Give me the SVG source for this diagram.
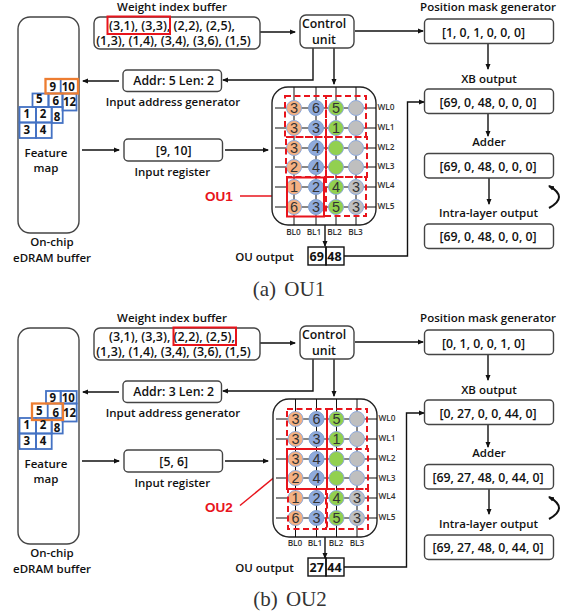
<svg xmlns="http://www.w3.org/2000/svg" width="573" height="615" viewBox="0 0 573 615">
<style>
text{font-family:"Open Sans","Noto Sans","Liberation Sans",sans-serif;font-weight:600;fill:#111;text-anchor:middle}
.l{font-size:11.5px}
.v{font-size:12.3px}
.b{fill:#fff;stroke:#444;stroke-width:1.4}
.k{fill:none;stroke:#111;stroke-width:1.4}
.n{font-size:11.5px;font-weight:700}
.c{fill:none;stroke:#111;stroke-width:1.4}
.cw{fill:none;stroke:#111;stroke-width:1}
.r{fill:none;stroke:#e8141c;stroke-width:2}
.d{fill:none;stroke:#e8141c;stroke-width:2;stroke-dasharray:6 3.500}
.blue{fill:none;stroke:#4472c4;stroke-width:1.8}
.org{fill:none;stroke:#ed7d31;stroke-width:2.300}
.o{fill:#f4b183;stroke:#8faadc}
.s{fill:#8faadc;stroke:#7f9fd0}
.g{fill:#92d050;stroke:#8faadc}
.y{fill:#bfbfbf;stroke:#8faadc}
.w{font-size:14.5px;font-weight:400;fill:#333;font-family:"Liberation Sans",sans-serif}
.wl{font-size:8.300px;fill:#333}
.cap{font-family:"Liberation Serif",serif;font-size:21px;font-weight:400;fill:#333;word-spacing:3px}
.ou{font-family:"Liberation Sans",sans-serif;font-size:13.500px;font-weight:700;fill:#e8141c}
</style>
<defs>
<marker id="a" markerUnits="userSpaceOnUse" markerWidth="6" markerHeight="6" refX="5" refY="3" orient="auto"><path d="M0 0.500L6 3L0 5.500z" fill="#111"/></marker>
<marker id="ar" markerUnits="userSpaceOnUse" markerWidth="6" markerHeight="6" refX="5" refY="3" orient="auto"><path d="M0 0.500L6 3L0 5.500z" fill="#e8141c"/></marker>
</defs>
<g id="connectors-a">
<path class="c" marker-end="url(#a)" d="M119 81H83"/>
<path class="c" marker-end="url(#a)" d="M82 150H119"/>
<path class="c" marker-end="url(#a)" d="M225 150H268"/>
<path class="c" marker-end="url(#a)" d="M313 48V80H223"/>
<path class="c" marker-end="url(#a)" d="M260 32H295"/>
<path class="c" marker-end="url(#a)" d="M355 31H423"/>
<path class="c" marker-end="url(#a)" d="M334 48V84"/>
<path class="c" marker-end="url(#a)" d="M488 43V69"/>
<path class="c" marker-end="url(#a)" d="M488 113V136"/>
<path class="c" marker-end="url(#a)" d="M489 178V204"/>
<path class="c" marker-end="url(#a)" d="M325 225V246"/>
<path class="c" marker-end="url(#a)" d="M344 256H407.500V102H424"/>
<path class="c" marker-end="url(#a)" d="M549 208Q569 197 549 186" style="stroke-width:2"/>
<path class="r" marker-end="url(#ar)" d="M240 196H284" style="stroke-width:1.500"/>
</g>
<g id="connectors-b">
<path class="c" marker-end="url(#a)" d="M119 392H83"/>
<path class="c" marker-end="url(#a)" d="M82 461H119"/>
<path class="c" marker-end="url(#a)" d="M225 461H268"/>
<path class="c" marker-end="url(#a)" d="M313 359V391H223"/>
<path class="c" marker-end="url(#a)" d="M260 343H295"/>
<path class="c" marker-end="url(#a)" d="M355 342H423"/>
<path class="c" marker-end="url(#a)" d="M334 359V396"/>
<path class="c" marker-end="url(#a)" d="M488 354V380"/>
<path class="c" marker-end="url(#a)" d="M488 425V447"/>
<path class="c" marker-end="url(#a)" d="M489 489V514"/>
<path class="c" marker-end="url(#a)" d="M325 537V558"/>
<path class="c" marker-end="url(#a)" d="M344 567H406.500V413H424"/>
<path class="c" marker-end="url(#a)" d="M549 519Q569 508 549 497" style="stroke-width:2"/>
<path class="r" marker-end="url(#ar)" d="M240 505.500L282 471" style="stroke-width:1.500"/>
</g>
<g id="buffer-a"><rect class="b" x="18" y="17" width="61" height="216" rx="12"/>
<text class="l" x="46" y="157">Feature</text><text class="l" x="46" y="172">map</text>
<text class="l" x="52" y="246">On-chip</text><text class="l" x="52" y="262">eDRAM buffer</text></g>
<g id="tiles-a">
<rect class="blue" x="32.500" y="93.500" width="16" height="13.500"/>
<rect class="blue" x="48.500" y="93.500" width="14" height="13.500"/>
<rect class="blue" x="62.500" y="93.500" width="14" height="17"/>
<rect class="blue" x="51.700" y="107" width="11" height="16"/>
<rect class="blue" x="19.500" y="107" width="16.500" height="15.500"/>
<rect class="blue" x="36" y="107" width="15.700" height="15.500"/>
<rect class="blue" x="19.500" y="122.500" width="16.500" height="15.500"/>
<rect class="blue" x="36" y="122.500" width="15.700" height="15.500"/>
<path class="blue" d="M60.700 79V93"/>
<rect class="org" x="45.500" y="79" width="32.500" height="14.500"/>
<text class="n" x="52.700" y="90.500">9</text><text class="n" x="68.300" y="90.500">10</text>
<text class="n" x="39.300" y="103">5</text><text class="n" x="55.700" y="105">6</text><text class="n" x="69.500" y="106">12</text>
<text class="n" x="57" y="121">8</text>
<text class="n" x="26.700" y="118">1</text><text class="n" x="43" y="118">2</text>
<text class="n" x="26.700" y="133.500">3</text><text class="n" x="43" y="133.500">4</text></g>
<g id="wib-a"><text class="l" x="172" y="11">Weight index buffer</text><rect class="b" x="94" y="17" width="166" height="32" rx="6"/>
<text class="v" x="172" y="29.500" style="font-size:12.500px">(3,1), (3,3), (2,2), (2,5),</text><text class="v" x="173.500" y="45" style="font-size:12.500px">(1,3), (1,4), (3,4), (3,6), (1,5)</text><rect class="r" x="107.500" y="16.500" width="62.500" height="17.500"/></g>
<g id="addr-a"><rect class="b" x="123" y="70" width="98.500" height="21.500" rx="4"/><text class="v" x="173.700" y="84.500">Addr: 5 Len: 2</text><text class="l" x="173" y="105.500">Input address generator</text></g>
<g id="ireg-a"><rect class="b" x="124" y="139" width="98.500" height="22" rx="4"/><text class="v" x="173.700" y="154.500">[9, 10]</text><text class="l" x="172.300" y="175.500">Input register</text></g>
<g id="cu-a"><rect class="b" x="300" y="15" width="54" height="33" rx="6"/><text class="v" x="324" y="28">Control</text><text class="v" x="324" y="44">unit</text></g>
<g id="xb-a"><rect class="b" x="272" y="87" width="104" height="138" rx="16" style="stroke:#222"/>
<path class="cw" d="M294 87V225M316 87V225M336 87V225M356 87V225M275 108H376M275 128H376M275 148H376M275 167H376M275 187H376M275 207H376"/>
<circle class="o" cx="294" cy="108" r="7.500"/><text class="w" x="294" y="113">3</text><circle class="s" cx="316" cy="108" r="7.500"/><text class="w" x="316" y="113">6</text><circle class="g" cx="336" cy="108" r="7.500"/><text class="w" x="336" y="113">5</text><circle class="y" cx="356" cy="108" r="7.500"/>
<circle class="o" cx="294" cy="128" r="7.500"/><text class="w" x="294" y="133">3</text><circle class="s" cx="316" cy="128" r="7.500"/><text class="w" x="316" y="133">3</text><circle class="g" cx="336" cy="128" r="7.500"/><text class="w" x="336" y="133">1</text><circle class="y" cx="356" cy="128" r="7.500"/>
<circle class="o" cx="294" cy="148" r="7.500"/><text class="w" x="294" y="153">3</text><circle class="s" cx="316" cy="148" r="7.500"/><text class="w" x="316" y="153">4</text><circle class="g" cx="336" cy="148" r="7.500"/><circle class="y" cx="356" cy="148" r="7.500"/>
<circle class="o" cx="294" cy="167" r="7.500"/><text class="w" x="294" y="172">2</text><circle class="s" cx="316" cy="167" r="7.500"/><text class="w" x="316" y="172">4</text><circle class="g" cx="336" cy="167" r="7.500"/><circle class="y" cx="356" cy="167" r="7.500"/>
<circle class="o" cx="294" cy="187" r="7.500"/><text class="w" x="294" y="192">1</text><circle class="s" cx="316" cy="187" r="7.500"/><text class="w" x="316" y="192">2</text><circle class="g" cx="336" cy="187" r="7.500"/><text class="w" x="336" y="192">4</text><circle class="y" cx="356" cy="187" r="7.500"/><text class="w" x="356" y="192">3</text>
<circle class="o" cx="294" cy="207" r="7.500"/><text class="w" x="294" y="212">6</text><circle class="s" cx="316" cy="207" r="7.500"/><text class="w" x="316" y="212">3</text><circle class="g" cx="336" cy="207" r="7.500"/><text class="w" x="336" y="212">5</text><circle class="y" cx="356" cy="207" r="7.500"/><text class="w" x="356" y="212">3</text>
<rect class="d" x="285" y="96" width="41" height="41"/><rect class="d" x="326" y="96" width="40" height="41"/><rect class="d" x="286" y="137" width="40" height="40"/><rect class="d" x="326" y="137" width="41" height="40"/><rect class="d" x="326" y="177" width="40" height="39"/>
<rect class="r" x="287" y="177.500" width="37" height="39"/>
<text class="wl" x="386" y="110">WL0</text><text class="wl" x="386" y="130">WL1</text><text class="wl" x="386" y="150">WL2</text><text class="wl" x="386" y="169">WL3</text><text class="wl" x="386" y="188">WL4</text><text class="wl" x="386" y="209">WL5</text>
<text class="wl" x="293.500" y="235">BL0</text><text class="wl" x="314" y="235">BL1</text><text class="wl" x="334.500" y="235">BL2</text><text class="wl" x="355.500" y="235">BL3</text>
<text class="ou" x="219" y="201">OU1</text><text class="l" x="264.500" y="261">OU output</text></g>
<g id="ouo-a"><rect class="k" x="308" y="247" width="18" height="18"/><rect class="k" x="326" y="247" width="18" height="18"/><text class="n" x="316.700" y="261" style="font-size:12.500px">69</text><text class="n" x="334.500" y="261" style="font-size:12.500px">48</text></g>
<g id="pm-a"><text class="l" x="488" y="11">Position mask generator</text><rect class="b" x="424.500" y="19" width="129" height="24.500" rx="4"/><text class="v" x="483.500" y="36.500">[1, 0, 1, 0, 0, 0]</text></g>
<g id="xo-a"><text class="l" x="489" y="83">XB output</text><rect class="b" x="424.500" y="89" width="129" height="24.500" rx="4"/><text class="v" x="488" y="106.500">[69, 0, 48, 0, 0, 0]</text></g>
<g id="ad-a"><text class="l" x="489" y="146">Adder</text><rect class="b" x="424.500" y="153.500" width="129" height="24.500" rx="4"/><text class="v" x="488" y="170.500">[69, 0, 48, 0, 0, 0]</text></g>
<g id="il-a"><text class="l" x="488.500" y="217">Intra-layer output</text><rect class="b" x="424.500" y="224" width="129" height="24.500" rx="4"/><text class="v" x="488" y="241">[69, 0, 48, 0, 0, 0]</text></g>
<text class="cap" x="289" y="296">(a) OU1</text>

<g id="buffer-b"><rect class="b" x="18" y="328" width="61" height="216" rx="12"/>
<text class="l" x="46" y="468">Feature</text><text class="l" x="46" y="483">map</text>
<text class="l" x="52" y="557">On-chip</text><text class="l" x="52" y="573">eDRAM buffer</text></g>
<g id="tiles-b">
<rect class="blue" x="46" y="391" width="14.700" height="12.500"/>
<rect class="blue" x="60.700" y="391" width="16" height="12.500"/>
<rect class="blue" x="62.500" y="403.500" width="14.200" height="18"/>
<rect class="blue" x="51.700" y="418" width="11" height="15.500"/>
<rect class="blue" x="19.500" y="418" width="16.500" height="15.500"/>
<rect class="blue" x="36" y="418" width="15.700" height="15.500"/>
<rect class="blue" x="19.500" y="433.500" width="16.500" height="15.500"/>
<rect class="blue" x="36" y="433.500" width="15.700" height="15.500"/>
<path class="blue" d="M47.700 403.500V420"/>
<rect class="org" x="32" y="403.500" width="31" height="16.500"/>
<text class="n" x="52.700" y="401.700">9</text><text class="n" x="68.300" y="401.700">10</text>
<text class="n" x="39.300" y="415">5</text><text class="n" x="55.700" y="416.500">6</text><text class="n" x="69.500" y="417">12</text>
<text class="n" x="57" y="432">8</text>
<text class="n" x="26.700" y="429">1</text><text class="n" x="43" y="429">2</text>
<text class="n" x="26.700" y="444.500">3</text><text class="n" x="43" y="444.500">4</text></g>
<g id="wib-b"><text class="l" x="172" y="322">Weight index buffer</text><rect class="b" x="94" y="328" width="166" height="32" rx="6"/>
<text class="v" x="172" y="340.500" style="font-size:12.500px">(3,1), (3,3), (2,2), (2,5),</text><text class="v" x="173.500" y="356" style="font-size:12.500px">(1,3), (1,4), (3,4), (3,6), (1,5)</text><rect class="r" x="173.500" y="327.500" width="62.500" height="17.500"/></g>
<g id="addr-b"><rect class="b" x="123" y="381" width="98.500" height="21.500" rx="4"/><text class="v" x="173.700" y="395.500">Addr: 3 Len: 2</text><text class="l" x="173" y="416.500">Input address generator</text></g>
<g id="ireg-b"><rect class="b" x="124" y="450" width="98.500" height="22" rx="4"/><text class="v" x="173.700" y="465.500">[5, 6]</text><text class="l" x="172.300" y="486.500">Input register</text></g>
<g id="cu-b"><rect class="b" x="300" y="326" width="54" height="33" rx="6"/><text class="v" x="324" y="339">Control</text><text class="v" x="324" y="355">unit</text></g>
<g id="xb-b"><rect class="b" x="273" y="399" width="104" height="138" rx="16" style="stroke:#222"/>
<path class="cw" d="M295.500 399V537M316.500 399V537M336.500 399V537M357 399V537M276 419H377M276 439H377M276 459H377M276 478H377M276 498H377M276 518H377"/>
<circle class="o" cx="295.500" cy="419" r="7.500"/><text class="w" x="295.500" y="424">3</text><circle class="s" cx="316.500" cy="419" r="7.500"/><text class="w" x="316.500" y="424">6</text><circle class="g" cx="336.500" cy="419" r="7.500"/><text class="w" x="336.500" y="424">5</text><circle class="y" cx="357" cy="419" r="7.500"/>
<circle class="o" cx="295.500" cy="439" r="7.500"/><text class="w" x="295.500" y="444">3</text><circle class="s" cx="316.500" cy="439" r="7.500"/><text class="w" x="316.500" y="444">3</text><circle class="g" cx="336.500" cy="439" r="7.500"/><text class="w" x="336.500" y="444">1</text><circle class="y" cx="357" cy="439" r="7.500"/>
<circle class="o" cx="295.500" cy="459" r="7.500"/><text class="w" x="295.500" y="464">3</text><circle class="s" cx="316.500" cy="459" r="7.500"/><text class="w" x="316.500" y="464">4</text><circle class="g" cx="336.500" cy="459" r="7.500"/><circle class="y" cx="357" cy="459" r="7.500"/>
<circle class="o" cx="295.500" cy="478" r="7.500"/><text class="w" x="295.500" y="483">2</text><circle class="s" cx="316.500" cy="478" r="7.500"/><text class="w" x="316.500" y="483">4</text><circle class="g" cx="336.500" cy="478" r="7.500"/><circle class="y" cx="357" cy="478" r="7.500"/>
<circle class="o" cx="295.500" cy="498" r="7.500"/><text class="w" x="295.500" y="503">1</text><circle class="s" cx="316.500" cy="498" r="7.500"/><text class="w" x="316.500" y="503">2</text><circle class="g" cx="336.500" cy="498" r="7.500"/><text class="w" x="336.500" y="503">4</text><circle class="y" cx="357" cy="498" r="7.500"/><text class="w" x="357" y="503">3</text>
<circle class="o" cx="295.500" cy="518" r="7.500"/><text class="w" x="295.500" y="523">6</text><circle class="s" cx="316.500" cy="518" r="7.500"/><text class="w" x="316.500" y="523">3</text><circle class="g" cx="336.500" cy="518" r="7.500"/><text class="w" x="336.500" y="523">5</text><circle class="y" cx="357" cy="518" r="7.500"/><text class="w" x="357" y="523">3</text>
<rect class="d" x="287" y="409" width="40" height="40"/><rect class="d" x="327" y="409" width="40" height="40"/><rect class="d" x="327" y="449" width="41" height="40"/><rect class="d" x="327" y="489" width="41" height="40"/><rect class="d" x="288" y="489" width="38" height="40"/>
<rect class="r" x="287" y="449" width="40" height="40"/>
<text class="wl" x="387" y="421">WL0</text><text class="wl" x="387" y="441">WL1</text><text class="wl" x="387" y="461">WL2</text><text class="wl" x="387" y="481">WL3</text><text class="wl" x="387" y="499">WL4</text><text class="wl" x="387" y="520">WL5</text>
<text class="wl" x="295" y="546">BL0</text><text class="wl" x="315" y="546">BL1</text><text class="wl" x="336" y="546">BL2</text><text class="wl" x="357" y="546">BL3</text>
<text class="ou" x="219" y="512">OU2</text><text class="l" x="264.500" y="572">OU output</text></g>
<g id="ouo-b"><rect class="k" x="308" y="558" width="18" height="18"/><rect class="k" x="326" y="558" width="18" height="18"/><text class="n" x="316.700" y="572" style="font-size:12.500px">27</text><text class="n" x="334.500" y="572" style="font-size:12.500px">44</text></g>
<g id="pm-b"><text class="l" x="488" y="322">Position mask generator</text><rect class="b" x="424.500" y="330" width="129" height="24.500" rx="4"/><text class="v" x="483.500" y="347.500">[0, 1, 0, 0, 1, 0]</text></g>
<g id="xo-b"><text class="l" x="489" y="394">XB output</text><rect class="b" x="424.500" y="400" width="129" height="24.500" rx="4"/><text class="v" x="488" y="417.500">[0, 27, 0, 0, 44, 0]</text></g>
<g id="ad-b"><text class="l" x="489" y="457">Adder</text><rect class="b" x="424.500" y="464.500" width="129" height="24.500" rx="4"/><text class="v" x="488" y="481.500">[69, 27, 48, 0, 44, 0]</text></g>
<g id="il-b"><text class="l" x="488.500" y="528">Intra-layer output</text><rect class="b" x="424.500" y="535" width="129" height="24.500" rx="4"/><text class="v" x="488" y="552">[69, 27, 48, 0, 44, 0]</text></g>
<text class="cap" x="290" y="606">(b) OU2</text>
</svg>
